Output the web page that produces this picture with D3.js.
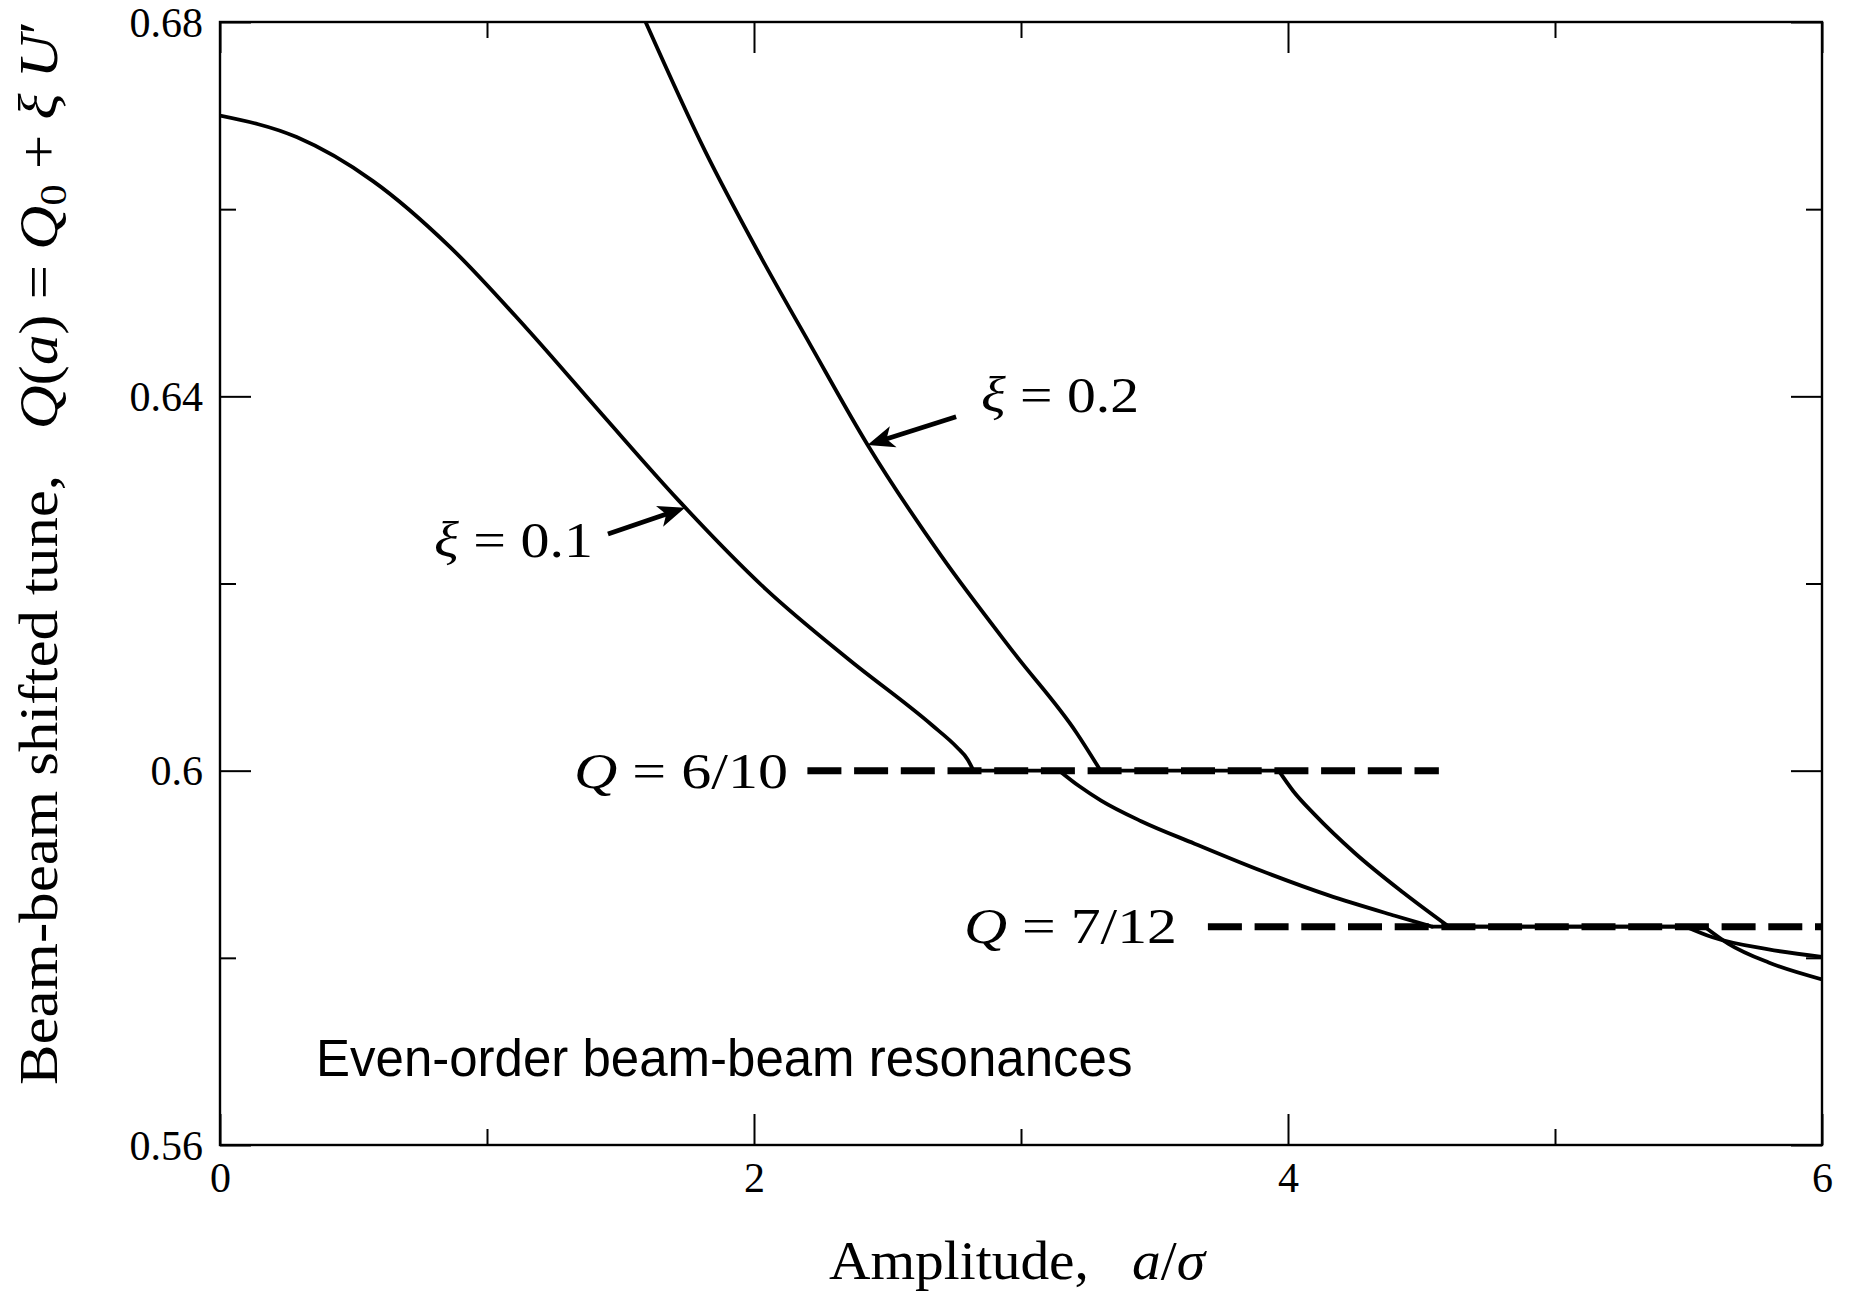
<!DOCTYPE html>
<html><head><meta charset="utf-8">
<script src="https://cdn.jsdelivr.net/npm/d3@7"></script>
<style>
html,body{margin:0;padding:0;background:#fff;}
svg{display:block;}
</style></head><body>
<svg id="chart" width="1849" height="1291"></svg>
<script>
// ---------- data ----------
const xMajorTicks = [0, 2, 4, 6];
const xMinorTicks = [1, 3, 5];
const yMajorTicks = [0.56, 0.6, 0.64, 0.68];
const yMinorTicks = [0.58, 0.62, 0.66];
const yTickLabels = ["0.56", "0.6", "0.64", "0.68"];

// xi = 0.1 curve (amplitude a/sigma, tune Q)
const xi01Amplitude = [0, 0.287, 0.573, 0.860, 1.147, 1.433, 1.720, 2.044, 2.354, 2.665, 2.760, 2.800, 2.822,
                       3.143, 3.22, 3.30, 3.45, 3.65, 3.90, 4.15, 4.40, 4.54,
                       5.49, 5.59, 5.80, 6.0];
const xi01Tune      = [0.6700, 0.6677, 0.6630, 0.6560, 0.6473, 0.6380, 0.6288, 0.6194, 0.6119, 0.6049, 0.6025, 0.6012, 0.6000,
                       0.6000, 0.5983, 0.5968, 0.5946, 0.5922, 0.5893, 0.5867, 0.5845, 0.58333,
                       0.58333, 0.5822, 0.5809, 0.5801];

// xi = 0.2 curve
const xi02Amplitude = [1.594, 1.817, 2.014, 2.211, 2.428, 2.70, 2.976, 3.209, 3.298,
                       3.965, 4.02, 4.10, 4.25, 4.43, 4.602,
                       5.56, 5.65, 5.80, 6.0];
const xi02Tune      = [0.6800, 0.6662, 0.6555, 0.6455, 0.6347, 0.6230, 0.6125, 0.6040, 0.6000,
                       0.6000, 0.5978, 0.5953, 0.5912, 0.5870, 0.58333,
                       0.58333, 0.5815, 0.5795, 0.5777];

// resonance lines
const resonanceTune  = [0.6, 0.58333];
const resonanceStart = [2.2, 3.7];
const resonanceEnd   = [4.565, 6.0];
const resonanceNames = ["6/10", "7/12"];

// arrow annotations (data units)
const arrowXiValues = ["0.1", "0.2"];
const arrowTailA = [1.453, 2.757];
const arrowTailQ = [0.62529, 0.63782];
const arrowTipA  = [1.742, 2.425];
const arrowTipQ  = [0.6281, 0.6348];

// ---------- layout ----------
const L = 220, T = 22, R = 1822, B = 1145;
const serif = "'Liberation Serif', 'DejaVu Serif', serif";
const svg = d3.select("#chart");
const x = d3.scaleLinear().domain([0, 6]).range([L, R]);
const y = d3.scaleLinear().domain([0.56, 0.68]).range([B, T]);

svg.append("defs").append("clipPath").attr("id", "plotclip")
  .append("rect").attr("x", L).attr("y", T).attr("width", R - L).attr("height", B - T);

// ---------- axes ----------
function styleAxis(g) {
  g.select(".domain").remove();
  g.selectAll(".tick line").attr("stroke", "#000").attr("stroke-width", 2);
  g.selectAll(".tick text").attr("font-family", serif).attr("font-size", 42).attr("fill", "#000");
}
svg.append("g").attr("transform", `translate(0,${B})`)
  .call(d3.axisBottom(x).tickValues(xMajorTicks).tickSizeInner(-31).tickSizeOuter(0).tickPadding(17).tickFormat(d3.format("d")))
  .call(styleAxis);
svg.append("g").attr("transform", `translate(0,${B})`)
  .call(d3.axisBottom(x).tickValues(xMinorTicks).tickSizeInner(-16).tickSizeOuter(0).tickFormat(""))
  .call(styleAxis);
svg.append("g").attr("transform", `translate(0,${T})`)
  .call(d3.axisTop(x).tickValues(xMajorTicks).tickSizeInner(-31).tickSizeOuter(0).tickFormat(""))
  .call(styleAxis);
svg.append("g").attr("transform", `translate(0,${T})`)
  .call(d3.axisTop(x).tickValues(xMinorTicks).tickSizeInner(-16).tickSizeOuter(0).tickFormat(""))
  .call(styleAxis);
const yAxisG = svg.append("g").attr("transform", `translate(${L},0)`)
  .call(d3.axisLeft(y).tickValues(yMajorTicks).tickSizeInner(-31).tickSizeOuter(0).tickPadding(17)
        .tickFormat((d, i) => yTickLabels[i]))
  .call(styleAxis);
yAxisG.selectAll(".tick text").attr("dy", "0.34em");
svg.append("g").attr("transform", `translate(${L},0)`)
  .call(d3.axisLeft(y).tickValues(yMinorTicks).tickSizeInner(-16).tickSizeOuter(0).tickFormat(""))
  .call(styleAxis);
svg.append("g").attr("transform", `translate(${R},0)`)
  .call(d3.axisRight(y).tickValues(yMajorTicks).tickSizeInner(-31).tickSizeOuter(0).tickFormat(""))
  .call(styleAxis);
svg.append("g").attr("transform", `translate(${R},0)`)
  .call(d3.axisRight(y).tickValues(yMinorTicks).tickSizeInner(-16).tickSizeOuter(0).tickFormat(""))
  .call(styleAxis);

// ---------- resonance dashed lines ----------
svg.append("g").selectAll("line").data(resonanceTune).join("line")
  .attr("x1", (d, i) => x(resonanceStart[i]))
  .attr("x2", (d, i) => x(resonanceEnd[i]))
  .attr("y1", d => y(d)).attr("y2", d => y(d))
  .attr("stroke", "#000").attr("stroke-width", 7)
  .attr("stroke-dasharray", "34,12.7");

// ---------- curves ----------
function pieces(A, Q) {
  const out = [];
  let cur = [[A[0], Q[0]]], curFlat = null;
  for (let i = 1; i < A.length; i++) {
    const flat = Q[i] === Q[i - 1];
    if (curFlat === null) curFlat = flat;
    if (flat !== curFlat) {
      out.push({flat: curFlat, pts: cur});
      cur = [[A[i - 1], Q[i - 1]]];
      curFlat = flat;
    }
    cur.push([A[i], Q[i]]);
  }
  out.push({flat: curFlat, pts: cur});
  return out;
}
const curveG = svg.append("g").attr("clip-path", "url(#plotclip)");
[[xi01Amplitude, xi01Tune], [xi02Amplitude, xi02Tune]].forEach(([A, Q]) => {
  pieces(A, Q).forEach(p => {
    const gen = d3.line().x(d => x(d[0])).y(d => y(d[1]))
      .curve(p.flat ? d3.curveLinear : d3.curveMonotoneX);
    curveG.append("path").attr("d", gen(p.pts))
      .attr("fill", "none").attr("stroke", "#000").attr("stroke-width", 3.8)
      .attr("stroke-linejoin", "round").attr("stroke-linecap", "round");
  });
});

// ---------- frame ----------
svg.append("rect").attr("x", L).attr("y", T).attr("width", R - L).attr("height", B - T)
  .attr("fill", "none").attr("stroke", "#000").attr("stroke-width", 2.4);

// ---------- arrows ----------
arrowXiValues.forEach((v, i) => {
  const x0 = x(arrowTailA[i]), y0 = y(arrowTailQ[i]);
  const x1 = x(arrowTipA[i]), y1 = y(arrowTipQ[i]);
  const len = Math.hypot(x1 - x0, y1 - y0);
  const ux = (x1 - x0) / len, uy = (y1 - y0) / len;
  const px = -uy, py = ux;
  const hl = 27, hw = 11;
  svg.append("line").attr("x1", x0).attr("y1", y0)
    .attr("x2", x1 - ux * 18).attr("y2", y1 - uy * 18)
    .attr("stroke", "#000").attr("stroke-width", 4.8);
  const pts = [
    [x1, y1],
    [x1 - ux * hl + px * hw, y1 - uy * hl + py * hw],
    [x1 - ux * (hl - 7), y1 - uy * (hl - 7)],
    [x1 - ux * hl - px * hw, y1 - uy * hl - py * hw]
  ];
  svg.append("polygon").attr("points", pts.map(p => p.join(",")).join(" ")).attr("fill", "#000");
});

// ---------- annotation texts ----------
function mathLabel(xp, yp, parts, size, width) {
  const t = svg.append("text").attr("x", xp).attr("y", yp)
    .attr("font-family", serif).attr("font-size", size).attr("fill", "#000");
  parts.forEach(p => {
    const s = t.append("tspan").text(p[0]);
    if (p[1]) s.attr("font-style", "italic");
  });
  if (width) t.attr("textLength", width).attr("lengthAdjust", "spacingAndGlyphs");
  return t;
}
mathLabel(434, 557, [["ξ", true], [" = " + arrowXiValues[0], false]], 50, 159);
mathLabel(981, 412, [["ξ", true], [" = " + arrowXiValues[1], false]], 50, 158);
mathLabel(574, 788, [["Q", true], [" = " + resonanceNames[0], false]], 50, 214);
mathLabel(964, 943, [["Q", true], [" = " + resonanceNames[1], false]], 50, 213);

// Even-order text
svg.append("text").attr("x", 316).attr("y", 1076)
  .attr("font-family", "'Liberation Sans', Arial, sans-serif").attr("font-size", 51).attr("fill", "#000")
  .text("Even-order beam-beam resonances");

// x axis title
const xt = svg.append("text").attr("x", 1017).attr("y", 1279)
  .attr("text-anchor", "middle").attr("font-family", serif).attr("font-size", 54).attr("fill", "#000")
  .attr("textLength", 376).attr("lengthAdjust", "spacingAndGlyphs");
xt.append("tspan").text("Amplitude,\u2002 ");
xt.append("tspan").attr("font-style", "italic").text("a");
xt.append("tspan").text("/");
xt.append("tspan").attr("font-style", "italic").text("σ");

// y axis title
const yt = svg.append("text").attr("transform", "translate(57,553) rotate(-90)")
  .attr("text-anchor", "middle").attr("font-family", serif).attr("font-size", 54).attr("fill", "#000")
  .attr("textLength", 1064).attr("lengthAdjust", "spacingAndGlyphs");
yt.append("tspan").text("Beam-beam shifted tune,\u2002 ");
yt.append("tspan").attr("font-style", "italic").text("Q");
yt.append("tspan").text("(");
yt.append("tspan").attr("font-style", "italic").text("a");
yt.append("tspan").text(") = ");
yt.append("tspan").attr("font-style", "italic").text("Q");
yt.append("tspan").attr("font-size", 38).attr("dy", 9).text("0");
yt.append("tspan").attr("dy", -9).text(" + ");
yt.append("tspan").attr("font-style", "italic").text("ξ U");
yt.append("tspan").text("′");
</script>
</body></html>
